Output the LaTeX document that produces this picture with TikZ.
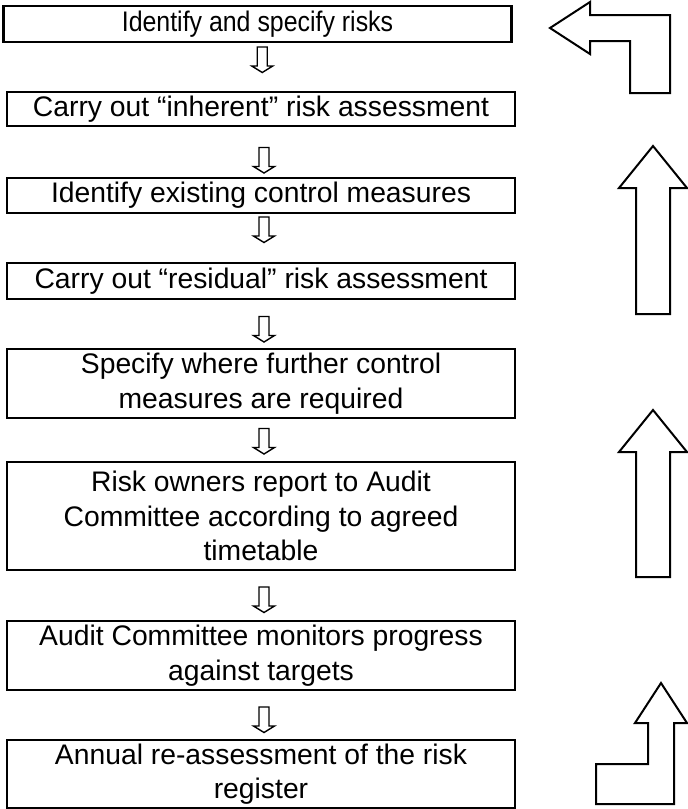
\documentclass[tikz,border=0pt]{standalone}
\usepackage{graphicx}
\usepackage{fontspec}
\setmainfont{Liberation Sans}
\usetikzlibrary{positioning,calc}

\begin{document}
\begin{tikzpicture}[x=1pt,y=-1pt,node distance=50pt,line join=miter]
    \tikzstyle{stepbox}=[draw,line width=2.4pt,outer sep=0pt,inner sep=2pt,minimum width=508pt,align=center,font=\fontsize{28.3}{34.5}\selectfont]
    \tikzstyle{down arrow}=[draw,line width=1.4pt]
    \tikzstyle{loop arrow}=[draw,line width=2pt]

    \useasboundingbox (0,0) rectangle (688,809);

    \node[stepbox,minimum height=36pt] (ident)  at (257.5,24)        {\scalebox{0.88}[1]{Identify and specify risks}};
    \node[stepbox,minimum height=34pt] (inher)  [below=of ident,xshift=3.5pt] {Carry out “inherent” risk assessment};
    \node[stepbox,minimum height=35pt] (exist)  [below=52pt of inher] {Identify existing control measures};
    \node[stepbox,minimum height=36pt] (resid)  [below=of exist]     {Carry out “residual” risk assessment};
    \node[stepbox,minimum height=69pt] (furth)  [below=of resid]     {Specify where further control\\measures are required};
    \node[stepbox,minimum height=108pt] (owner) [below=44pt of furth] {Risk owners report to Audit\\Committee according to agreed\\timetable};
    \node[stepbox,minimum height=69pt] (monit)  [below=51pt of owner] {Audit Committee monitors progress\\against targets};
    \node[stepbox,minimum height=68pt] (annual) [below=of monit]     {Annual re-assessment of the risk\\register};

    % hollow arrows between the steps
    \foreach \a/\b/\d in {ident/inher/-7.5, inher/exist/8, exist/resid/-8.5, resid/furth/5,
                          furth/owner/1, owner/monit/4, monit/annual/4.5}
    {
        \coordinate (m) at ($(\a.south)!0.5!(\b.north)+(0,\d)$);
        \draw[down arrow] (m) ++(-2,-12.5) -- ++(10,0) -- ++(0,19) -- ++(5.5,0)
            -- ++(-10.5,6.5) -- ++(-10.5,-6.5) -- ++(5.5,0) -- cycle;
    }

    % feedback arrows on the right
    \draw[loop arrow] (550,28) -- (590,2) -- (590,15) -- (670,15) -- (670,93)
        -- (630,93) -- (630,41) -- (590,41) -- (590,54) -- cycle;
    \draw[loop arrow] (653,146) -- (687,188) -- (670,188) -- (670,314)
        -- (636,314) -- (636,188) -- (619,188) -- cycle;
    \draw[loop arrow] (653,410) -- (687,452) -- (670,452) -- (670,577)
        -- (636,577) -- (636,452) -- (619,452) -- cycle;
    \draw[loop arrow] (661,683) -- (687,723) -- (674,723) -- (674,804)
        -- (596,804) -- (596,764) -- (648,764) -- (648,723) -- (635,723) -- cycle;
\end{tikzpicture}
\end{document}
